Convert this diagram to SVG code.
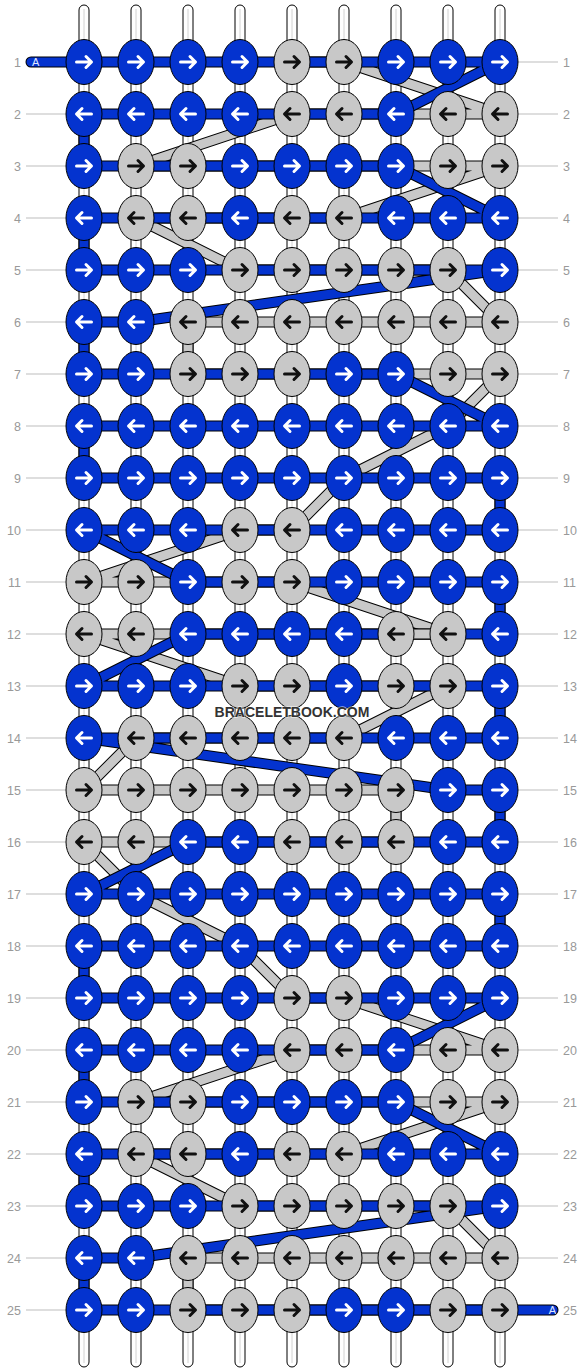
<svg xmlns="http://www.w3.org/2000/svg" width="584" height="1372" viewBox="0 0 584 1372">
<style>
.tube{fill:#fff;stroke:#000;stroke-width:1}
.tl{stroke:#d2d2d2;stroke-width:1}
.ll{stroke:#bdbdbd;stroke-width:1}
.po{fill:none;stroke:#000;stroke-width:11;stroke-linejoin:round}
.pg{fill:none;stroke:#c8c8c8;stroke-width:9;stroke-linejoin:round}
.pob{fill:none;stroke:#000;stroke-width:11;stroke-linejoin:round;stroke-linecap:round}
.pb{fill:none;stroke:#0433cf;stroke-width:9;stroke-linejoin:round;stroke-linecap:round}
.lab{font-family:"Liberation Sans",Arial,sans-serif;font-size:12.5px;fill:#999}
.lr{text-anchor:end}
.ta{font-family:"Liberation Sans",Arial,sans-serif;font-size:11px;fill:#dfe6ff}
.wm{font-family:"Liberation Sans",Arial,sans-serif;font-size:14px;font-weight:bold;fill:#333;text-anchor:middle;stroke:#fff;stroke-width:1.5;stroke-opacity:.6;paint-order:stroke}
</style>
<defs>
<ellipse id="e" rx="18" ry="22.5" stroke="#000" stroke-width="1"/>
<path id="ar" d="M-7.5,0H7M2,-5.5L7.5,0L2,5.5" fill="none" stroke-width="3" stroke-linecap="round" stroke-linejoin="round"/>
<path id="al" d="M7.5,0H-7M-2,-5.5L-7.5,0L-2,5.5" fill="none" stroke-width="3" stroke-linecap="round" stroke-linejoin="round"/>
<g id="BR"><use href="#e" fill="#0433cf"/><use href="#ar" stroke="#fff"/></g>
<g id="BL"><use href="#e" fill="#0433cf"/><use href="#al" stroke="#fff"/></g>
<g id="GR"><use href="#e" fill="#c8c8c8"/><use href="#ar" stroke="#111"/></g>
<g id="GL"><use href="#e" fill="#c8c8c8"/><use href="#al" stroke="#111"/></g>
</defs>
<rect width="584" height="1372" fill="#fff"/>
<g id="strings">
<rect class="tube" x="79" y="5" width="10" height="1362" rx="5"/><line class="tl" x1="84" y1="9" x2="84" y2="1363"/>
<rect class="tube" x="131" y="5" width="10" height="1362" rx="5"/><line class="tl" x1="136" y1="9" x2="136" y2="1363"/>
<rect class="tube" x="183" y="5" width="10" height="1362" rx="5"/><line class="tl" x1="188" y1="9" x2="188" y2="1363"/>
<rect class="tube" x="235" y="5" width="10" height="1362" rx="5"/><line class="tl" x1="240" y1="9" x2="240" y2="1363"/>
<rect class="tube" x="287" y="5" width="10" height="1362" rx="5"/><line class="tl" x1="292" y1="9" x2="292" y2="1363"/>
<rect class="tube" x="339" y="5" width="10" height="1362" rx="5"/><line class="tl" x1="344" y1="9" x2="344" y2="1363"/>
<rect class="tube" x="391" y="5" width="10" height="1362" rx="5"/><line class="tl" x1="396" y1="9" x2="396" y2="1363"/>
<rect class="tube" x="443" y="5" width="10" height="1362" rx="5"/><line class="tl" x1="448" y1="9" x2="448" y2="1363"/>
<rect class="tube" x="495" y="5" width="10" height="1362" rx="5"/><line class="tl" x1="500" y1="9" x2="500" y2="1363"/>
</g>
<g id="row-lines">
<line class="ll" x1="514" y1="62" x2="558" y2="62"/>
<line class="ll" x1="26" y1="114" x2="70" y2="114"/><line class="ll" x1="514" y1="114" x2="558" y2="114"/>
<line class="ll" x1="26" y1="166" x2="70" y2="166"/><line class="ll" x1="514" y1="166" x2="558" y2="166"/>
<line class="ll" x1="26" y1="218" x2="70" y2="218"/><line class="ll" x1="514" y1="218" x2="558" y2="218"/>
<line class="ll" x1="26" y1="270" x2="70" y2="270"/><line class="ll" x1="514" y1="270" x2="558" y2="270"/>
<line class="ll" x1="26" y1="322" x2="70" y2="322"/><line class="ll" x1="514" y1="322" x2="558" y2="322"/>
<line class="ll" x1="26" y1="374" x2="70" y2="374"/><line class="ll" x1="514" y1="374" x2="558" y2="374"/>
<line class="ll" x1="26" y1="426" x2="70" y2="426"/><line class="ll" x1="514" y1="426" x2="558" y2="426"/>
<line class="ll" x1="26" y1="478" x2="70" y2="478"/><line class="ll" x1="514" y1="478" x2="558" y2="478"/>
<line class="ll" x1="26" y1="530" x2="70" y2="530"/><line class="ll" x1="514" y1="530" x2="558" y2="530"/>
<line class="ll" x1="26" y1="582" x2="70" y2="582"/><line class="ll" x1="514" y1="582" x2="558" y2="582"/>
<line class="ll" x1="26" y1="634" x2="70" y2="634"/><line class="ll" x1="514" y1="634" x2="558" y2="634"/>
<line class="ll" x1="26" y1="686" x2="70" y2="686"/><line class="ll" x1="514" y1="686" x2="558" y2="686"/>
<line class="ll" x1="26" y1="738" x2="70" y2="738"/><line class="ll" x1="514" y1="738" x2="558" y2="738"/>
<line class="ll" x1="26" y1="790" x2="70" y2="790"/><line class="ll" x1="514" y1="790" x2="558" y2="790"/>
<line class="ll" x1="26" y1="842" x2="70" y2="842"/><line class="ll" x1="514" y1="842" x2="558" y2="842"/>
<line class="ll" x1="26" y1="894" x2="70" y2="894"/><line class="ll" x1="514" y1="894" x2="558" y2="894"/>
<line class="ll" x1="26" y1="946" x2="70" y2="946"/><line class="ll" x1="514" y1="946" x2="558" y2="946"/>
<line class="ll" x1="26" y1="998" x2="70" y2="998"/><line class="ll" x1="514" y1="998" x2="558" y2="998"/>
<line class="ll" x1="26" y1="1050" x2="70" y2="1050"/><line class="ll" x1="514" y1="1050" x2="558" y2="1050"/>
<line class="ll" x1="26" y1="1102" x2="70" y2="1102"/><line class="ll" x1="514" y1="1102" x2="558" y2="1102"/>
<line class="ll" x1="26" y1="1154" x2="70" y2="1154"/><line class="ll" x1="514" y1="1154" x2="558" y2="1154"/>
<line class="ll" x1="26" y1="1206" x2="70" y2="1206"/><line class="ll" x1="514" y1="1206" x2="558" y2="1206"/>
<line class="ll" x1="26" y1="1258" x2="70" y2="1258"/><line class="ll" x1="514" y1="1258" x2="558" y2="1258"/>
<line class="ll" x1="26" y1="1310" x2="70" y2="1310"/>
</g>
<g id="connectors">
<path id="gp-o" class="po" d="M292,62L344,62L500,114L292,114L136,166L500,166L344,218L136,218L240,270L448,270L500,322L188,322L188,374L500,374L448,426L344,478L292,530L240,530L84,582L292,582L448,634L84,634L240,686L448,686L344,738L136,738L84,790L396,790L396,842L84,842L136,894L240,946L292,998L344,998L500,1050L292,1050L136,1102L500,1102L344,1154L136,1154L240,1206L448,1206L500,1258L188,1258L188,1310L500,1310"/>
<path id="gp" class="pg" d="M292,62L344,62L500,114L292,114L136,166L500,166L344,218L136,218L240,270L448,270L500,322L188,322L188,374L500,374L448,426L344,478L292,530L240,530L84,582L292,582L448,634L84,634L240,686L448,686L344,738L136,738L84,790L396,790L396,842L84,842L136,894L240,946L292,998L344,998L500,1050L292,1050L136,1102L500,1102L344,1154L136,1154L240,1206L448,1206L500,1258L188,1258L188,1310L500,1310"/>
<path id="bp-o" class="pob" d="M31,62L500,62L396,114L84,114L84,166L396,166L500,218L84,218L84,270L500,270L136,322L84,322L84,374L396,374L500,426L84,426L84,478L500,478L500,530L84,530L188,582L500,582L500,634L188,634L84,686L500,686L500,738L84,738L448,790L500,790L500,842L188,842L84,894L500,894L500,946L84,946L84,998L500,998L396,1050L84,1050L84,1102L396,1102L500,1154L84,1154L84,1206L500,1206L136,1258L84,1258L84,1310L553,1310"/>
<path id="bp" class="pb" d="M31,62L500,62L396,114L84,114L84,166L396,166L500,218L84,218L84,270L500,270L136,322L84,322L84,374L396,374L500,426L84,426L84,478L500,478L500,530L84,530L188,582L500,582L500,634L188,634L84,686L500,686L500,738L84,738L448,790L500,790L500,842L188,842L84,894L500,894L500,946L84,946L84,998L500,998L396,1050L84,1050L84,1102L396,1102L500,1154L84,1154L84,1206L500,1206L136,1258L84,1258L84,1310L553,1310"/>
<path id="gp12" class="po" d="M396,634H448"/>
<path class="pg" d="M396,634H448"/>
<text class="ta" x="32" y="66">A</text>
<text class="ta lr" x="556" y="1314">A</text>
</g>
<g id="knots">
<g id="k1-1"><use href="#BR" x="84" y="62"/></g><g id="k1-2"><use href="#BR" x="136" y="62"/></g><g id="k1-3"><use href="#BR" x="188" y="62"/></g><g id="k1-4"><use href="#BR" x="240" y="62"/></g><g id="k1-5"><use href="#GR" x="292" y="62"/></g><g id="k1-6"><use href="#GR" x="344" y="62"/></g><g id="k1-7"><use href="#BR" x="396" y="62"/></g><g id="k1-8"><use href="#BR" x="448" y="62"/></g><g id="k1-9"><use href="#BR" x="500" y="62"/></g>
<g id="k2-1"><use href="#BL" x="84" y="114"/></g><g id="k2-2"><use href="#BL" x="136" y="114"/></g><g id="k2-3"><use href="#BL" x="188" y="114"/></g><g id="k2-4"><use href="#BL" x="240" y="114"/></g><g id="k2-5"><use href="#GL" x="292" y="114"/></g><g id="k2-6"><use href="#GL" x="344" y="114"/></g><g id="k2-7"><use href="#BL" x="396" y="114"/></g><g id="k2-8"><use href="#GL" x="448" y="114"/></g><g id="k2-9"><use href="#GL" x="500" y="114"/></g>
<g id="k3-1"><use href="#BR" x="84" y="166"/></g><g id="k3-2"><use href="#GR" x="136" y="166"/></g><g id="k3-3"><use href="#GR" x="188" y="166"/></g><g id="k3-4"><use href="#BR" x="240" y="166"/></g><g id="k3-5"><use href="#BR" x="292" y="166"/></g><g id="k3-6"><use href="#BR" x="344" y="166"/></g><g id="k3-7"><use href="#BR" x="396" y="166"/></g><g id="k3-8"><use href="#GR" x="448" y="166"/></g><g id="k3-9"><use href="#GR" x="500" y="166"/></g>
<g id="k4-1"><use href="#BL" x="84" y="218"/></g><g id="k4-2"><use href="#GL" x="136" y="218"/></g><g id="k4-3"><use href="#GL" x="188" y="218"/></g><g id="k4-4"><use href="#BL" x="240" y="218"/></g><g id="k4-5"><use href="#GL" x="292" y="218"/></g><g id="k4-6"><use href="#GL" x="344" y="218"/></g><g id="k4-7"><use href="#BL" x="396" y="218"/></g><g id="k4-8"><use href="#BL" x="448" y="218"/></g><g id="k4-9"><use href="#BL" x="500" y="218"/></g>
<g id="k5-1"><use href="#BR" x="84" y="270"/></g><g id="k5-2"><use href="#BR" x="136" y="270"/></g><g id="k5-3"><use href="#BR" x="188" y="270"/></g><g id="k5-4"><use href="#GR" x="240" y="270"/></g><g id="k5-5"><use href="#GR" x="292" y="270"/></g><g id="k5-6"><use href="#GR" x="344" y="270"/></g><g id="k5-7"><use href="#GR" x="396" y="270"/></g><g id="k5-8"><use href="#GR" x="448" y="270"/></g><g id="k5-9"><use href="#BR" x="500" y="270"/></g>
<g id="k6-1"><use href="#BL" x="84" y="322"/></g><g id="k6-2"><use href="#BL" x="136" y="322"/></g><g id="k6-3"><use href="#GL" x="188" y="322"/></g><g id="k6-4"><use href="#GL" x="240" y="322"/></g><g id="k6-5"><use href="#GL" x="292" y="322"/></g><g id="k6-6"><use href="#GL" x="344" y="322"/></g><g id="k6-7"><use href="#GL" x="396" y="322"/></g><g id="k6-8"><use href="#GL" x="448" y="322"/></g><g id="k6-9"><use href="#GL" x="500" y="322"/></g>
<g id="k7-1"><use href="#BR" x="84" y="374"/></g><g id="k7-2"><use href="#BR" x="136" y="374"/></g><g id="k7-3"><use href="#GR" x="188" y="374"/></g><g id="k7-4"><use href="#GR" x="240" y="374"/></g><g id="k7-5"><use href="#GR" x="292" y="374"/></g><g id="k7-6"><use href="#BR" x="344" y="374"/></g><g id="k7-7"><use href="#BR" x="396" y="374"/></g><g id="k7-8"><use href="#GR" x="448" y="374"/></g><g id="k7-9"><use href="#GR" x="500" y="374"/></g>
<g id="k8-1"><use href="#BL" x="84" y="426"/></g><g id="k8-2"><use href="#BL" x="136" y="426"/></g><g id="k8-3"><use href="#BL" x="188" y="426"/></g><g id="k8-4"><use href="#BL" x="240" y="426"/></g><g id="k8-5"><use href="#BL" x="292" y="426"/></g><g id="k8-6"><use href="#BL" x="344" y="426"/></g><g id="k8-7"><use href="#BL" x="396" y="426"/></g><g id="k8-8"><use href="#BL" x="448" y="426"/></g><g id="k8-9"><use href="#BL" x="500" y="426"/></g>
<g id="k9-1"><use href="#BR" x="84" y="478"/></g><g id="k9-2"><use href="#BR" x="136" y="478"/></g><g id="k9-3"><use href="#BR" x="188" y="478"/></g><g id="k9-4"><use href="#BR" x="240" y="478"/></g><g id="k9-5"><use href="#BR" x="292" y="478"/></g><g id="k9-6"><use href="#BR" x="344" y="478"/></g><g id="k9-7"><use href="#BR" x="396" y="478"/></g><g id="k9-8"><use href="#BR" x="448" y="478"/></g><g id="k9-9"><use href="#BR" x="500" y="478"/></g>
<g id="k10-1"><use href="#BL" x="84" y="530"/></g><g id="k10-2"><use href="#BL" x="136" y="530"/></g><g id="k10-3"><use href="#BL" x="188" y="530"/></g><g id="k10-4"><use href="#GL" x="240" y="530"/></g><g id="k10-5"><use href="#GL" x="292" y="530"/></g><g id="k10-6"><use href="#BL" x="344" y="530"/></g><g id="k10-7"><use href="#BL" x="396" y="530"/></g><g id="k10-8"><use href="#BL" x="448" y="530"/></g><g id="k10-9"><use href="#BL" x="500" y="530"/></g>
<g id="k11-1"><use href="#GR" x="84" y="582"/></g><g id="k11-2"><use href="#GR" x="136" y="582"/></g><g id="k11-3"><use href="#BR" x="188" y="582"/></g><g id="k11-4"><use href="#GR" x="240" y="582"/></g><g id="k11-5"><use href="#GR" x="292" y="582"/></g><g id="k11-6"><use href="#BR" x="344" y="582"/></g><g id="k11-7"><use href="#BR" x="396" y="582"/></g><g id="k11-8"><use href="#BR" x="448" y="582"/></g><g id="k11-9"><use href="#BR" x="500" y="582"/></g>
<g id="k12-1"><use href="#GL" x="84" y="634"/></g><g id="k12-2"><use href="#GL" x="136" y="634"/></g><g id="k12-3"><use href="#BL" x="188" y="634"/></g><g id="k12-4"><use href="#BL" x="240" y="634"/></g><g id="k12-5"><use href="#BL" x="292" y="634"/></g><g id="k12-6"><use href="#BL" x="344" y="634"/></g><g id="k12-7"><use href="#GL" x="396" y="634"/></g><g id="k12-8"><use href="#GL" x="448" y="634"/></g><g id="k12-9"><use href="#BL" x="500" y="634"/></g>
<g id="k13-1"><use href="#BR" x="84" y="686"/></g><g id="k13-2"><use href="#BR" x="136" y="686"/></g><g id="k13-3"><use href="#BR" x="188" y="686"/></g><g id="k13-4"><use href="#GR" x="240" y="686"/></g><g id="k13-5"><use href="#GR" x="292" y="686"/></g><g id="k13-6"><use href="#BR" x="344" y="686"/></g><g id="k13-7"><use href="#GR" x="396" y="686"/></g><g id="k13-8"><use href="#GR" x="448" y="686"/></g><g id="k13-9"><use href="#BR" x="500" y="686"/></g>
<g id="k14-1"><use href="#BL" x="84" y="738"/></g><g id="k14-2"><use href="#GL" x="136" y="738"/></g><g id="k14-3"><use href="#GL" x="188" y="738"/></g><g id="k14-4"><use href="#GL" x="240" y="738"/></g><g id="k14-5"><use href="#GL" x="292" y="738"/></g><g id="k14-6"><use href="#GL" x="344" y="738"/></g><g id="k14-7"><use href="#BL" x="396" y="738"/></g><g id="k14-8"><use href="#BL" x="448" y="738"/></g><g id="k14-9"><use href="#BL" x="500" y="738"/></g>
<g id="k15-1"><use href="#GR" x="84" y="790"/></g><g id="k15-2"><use href="#GR" x="136" y="790"/></g><g id="k15-3"><use href="#GR" x="188" y="790"/></g><g id="k15-4"><use href="#GR" x="240" y="790"/></g><g id="k15-5"><use href="#GR" x="292" y="790"/></g><g id="k15-6"><use href="#GR" x="344" y="790"/></g><g id="k15-7"><use href="#GR" x="396" y="790"/></g><g id="k15-8"><use href="#BR" x="448" y="790"/></g><g id="k15-9"><use href="#BR" x="500" y="790"/></g>
<g id="k16-1"><use href="#GL" x="84" y="842"/></g><g id="k16-2"><use href="#GL" x="136" y="842"/></g><g id="k16-3"><use href="#BL" x="188" y="842"/></g><g id="k16-4"><use href="#BL" x="240" y="842"/></g><g id="k16-5"><use href="#GL" x="292" y="842"/></g><g id="k16-6"><use href="#GL" x="344" y="842"/></g><g id="k16-7"><use href="#GL" x="396" y="842"/></g><g id="k16-8"><use href="#BL" x="448" y="842"/></g><g id="k16-9"><use href="#BL" x="500" y="842"/></g>
<g id="k17-1"><use href="#BR" x="84" y="894"/></g><g id="k17-2"><use href="#BR" x="136" y="894"/></g><g id="k17-3"><use href="#BR" x="188" y="894"/></g><g id="k17-4"><use href="#BR" x="240" y="894"/></g><g id="k17-5"><use href="#BR" x="292" y="894"/></g><g id="k17-6"><use href="#BR" x="344" y="894"/></g><g id="k17-7"><use href="#BR" x="396" y="894"/></g><g id="k17-8"><use href="#BR" x="448" y="894"/></g><g id="k17-9"><use href="#BR" x="500" y="894"/></g>
<g id="k18-1"><use href="#BL" x="84" y="946"/></g><g id="k18-2"><use href="#BL" x="136" y="946"/></g><g id="k18-3"><use href="#BL" x="188" y="946"/></g><g id="k18-4"><use href="#BL" x="240" y="946"/></g><g id="k18-5"><use href="#BL" x="292" y="946"/></g><g id="k18-6"><use href="#BL" x="344" y="946"/></g><g id="k18-7"><use href="#BL" x="396" y="946"/></g><g id="k18-8"><use href="#BL" x="448" y="946"/></g><g id="k18-9"><use href="#BL" x="500" y="946"/></g>
<g id="k19-1"><use href="#BR" x="84" y="998"/></g><g id="k19-2"><use href="#BR" x="136" y="998"/></g><g id="k19-3"><use href="#BR" x="188" y="998"/></g><g id="k19-4"><use href="#BR" x="240" y="998"/></g><g id="k19-5"><use href="#GR" x="292" y="998"/></g><g id="k19-6"><use href="#GR" x="344" y="998"/></g><g id="k19-7"><use href="#BR" x="396" y="998"/></g><g id="k19-8"><use href="#BR" x="448" y="998"/></g><g id="k19-9"><use href="#BR" x="500" y="998"/></g>
<g id="k20-1"><use href="#BL" x="84" y="1050"/></g><g id="k20-2"><use href="#BL" x="136" y="1050"/></g><g id="k20-3"><use href="#BL" x="188" y="1050"/></g><g id="k20-4"><use href="#BL" x="240" y="1050"/></g><g id="k20-5"><use href="#GL" x="292" y="1050"/></g><g id="k20-6"><use href="#GL" x="344" y="1050"/></g><g id="k20-7"><use href="#BL" x="396" y="1050"/></g><g id="k20-8"><use href="#GL" x="448" y="1050"/></g><g id="k20-9"><use href="#GL" x="500" y="1050"/></g>
<g id="k21-1"><use href="#BR" x="84" y="1102"/></g><g id="k21-2"><use href="#GR" x="136" y="1102"/></g><g id="k21-3"><use href="#GR" x="188" y="1102"/></g><g id="k21-4"><use href="#BR" x="240" y="1102"/></g><g id="k21-5"><use href="#BR" x="292" y="1102"/></g><g id="k21-6"><use href="#BR" x="344" y="1102"/></g><g id="k21-7"><use href="#BR" x="396" y="1102"/></g><g id="k21-8"><use href="#GR" x="448" y="1102"/></g><g id="k21-9"><use href="#GR" x="500" y="1102"/></g>
<g id="k22-1"><use href="#BL" x="84" y="1154"/></g><g id="k22-2"><use href="#GL" x="136" y="1154"/></g><g id="k22-3"><use href="#GL" x="188" y="1154"/></g><g id="k22-4"><use href="#BL" x="240" y="1154"/></g><g id="k22-5"><use href="#GL" x="292" y="1154"/></g><g id="k22-6"><use href="#GL" x="344" y="1154"/></g><g id="k22-7"><use href="#BL" x="396" y="1154"/></g><g id="k22-8"><use href="#BL" x="448" y="1154"/></g><g id="k22-9"><use href="#BL" x="500" y="1154"/></g>
<g id="k23-1"><use href="#BR" x="84" y="1206"/></g><g id="k23-2"><use href="#BR" x="136" y="1206"/></g><g id="k23-3"><use href="#BR" x="188" y="1206"/></g><g id="k23-4"><use href="#GR" x="240" y="1206"/></g><g id="k23-5"><use href="#GR" x="292" y="1206"/></g><g id="k23-6"><use href="#GR" x="344" y="1206"/></g><g id="k23-7"><use href="#GR" x="396" y="1206"/></g><g id="k23-8"><use href="#GR" x="448" y="1206"/></g><g id="k23-9"><use href="#BR" x="500" y="1206"/></g>
<g id="k24-1"><use href="#BL" x="84" y="1258"/></g><g id="k24-2"><use href="#BL" x="136" y="1258"/></g><g id="k24-3"><use href="#GL" x="188" y="1258"/></g><g id="k24-4"><use href="#GL" x="240" y="1258"/></g><g id="k24-5"><use href="#GL" x="292" y="1258"/></g><g id="k24-6"><use href="#GL" x="344" y="1258"/></g><g id="k24-7"><use href="#GL" x="396" y="1258"/></g><g id="k24-8"><use href="#GL" x="448" y="1258"/></g><g id="k24-9"><use href="#GL" x="500" y="1258"/></g>
<g id="k25-1"><use href="#BR" x="84" y="1310"/></g><g id="k25-2"><use href="#BR" x="136" y="1310"/></g><g id="k25-3"><use href="#GR" x="188" y="1310"/></g><g id="k25-4"><use href="#GR" x="240" y="1310"/></g><g id="k25-5"><use href="#GR" x="292" y="1310"/></g><g id="k25-6"><use href="#BR" x="344" y="1310"/></g><g id="k25-7"><use href="#BR" x="396" y="1310"/></g><g id="k25-8"><use href="#GR" x="448" y="1310"/></g><g id="k25-9"><use href="#GR" x="500" y="1310"/></g>
</g>
<g id="labels" class="lab">
<text class="lr" x="21" y="66.5">1</text><text x="563" y="66.5">1</text>
<text class="lr" x="21" y="118.5">2</text><text x="563" y="118.5">2</text>
<text class="lr" x="21" y="170.5">3</text><text x="563" y="170.5">3</text>
<text class="lr" x="21" y="222.5">4</text><text x="563" y="222.5">4</text>
<text class="lr" x="21" y="274.5">5</text><text x="563" y="274.5">5</text>
<text class="lr" x="21" y="326.5">6</text><text x="563" y="326.5">6</text>
<text class="lr" x="21" y="378.5">7</text><text x="563" y="378.5">7</text>
<text class="lr" x="21" y="430.5">8</text><text x="563" y="430.5">8</text>
<text class="lr" x="21" y="482.5">9</text><text x="563" y="482.5">9</text>
<text class="lr" x="21" y="534.5">10</text><text x="563" y="534.5">10</text>
<text class="lr" x="21" y="586.5">11</text><text x="563" y="586.5">11</text>
<text class="lr" x="21" y="638.5">12</text><text x="563" y="638.5">12</text>
<text class="lr" x="21" y="690.5">13</text><text x="563" y="690.5">13</text>
<text class="lr" x="21" y="742.5">14</text><text x="563" y="742.5">14</text>
<text class="lr" x="21" y="794.5">15</text><text x="563" y="794.5">15</text>
<text class="lr" x="21" y="846.5">16</text><text x="563" y="846.5">16</text>
<text class="lr" x="21" y="898.5">17</text><text x="563" y="898.5">17</text>
<text class="lr" x="21" y="950.5">18</text><text x="563" y="950.5">18</text>
<text class="lr" x="21" y="1002.5">19</text><text x="563" y="1002.5">19</text>
<text class="lr" x="21" y="1054.5">20</text><text x="563" y="1054.5">20</text>
<text class="lr" x="21" y="1106.5">21</text><text x="563" y="1106.5">21</text>
<text class="lr" x="21" y="1158.5">22</text><text x="563" y="1158.5">22</text>
<text class="lr" x="21" y="1210.5">23</text><text x="563" y="1210.5">23</text>
<text class="lr" x="21" y="1262.5">24</text><text x="563" y="1262.5">24</text>
<text class="lr" x="21" y="1314.5">25</text><text x="563" y="1314.5">25</text>
</g>
<text id="watermark" class="wm" x="292" y="717">BRACELETBOOK.COM</text>
</svg>
